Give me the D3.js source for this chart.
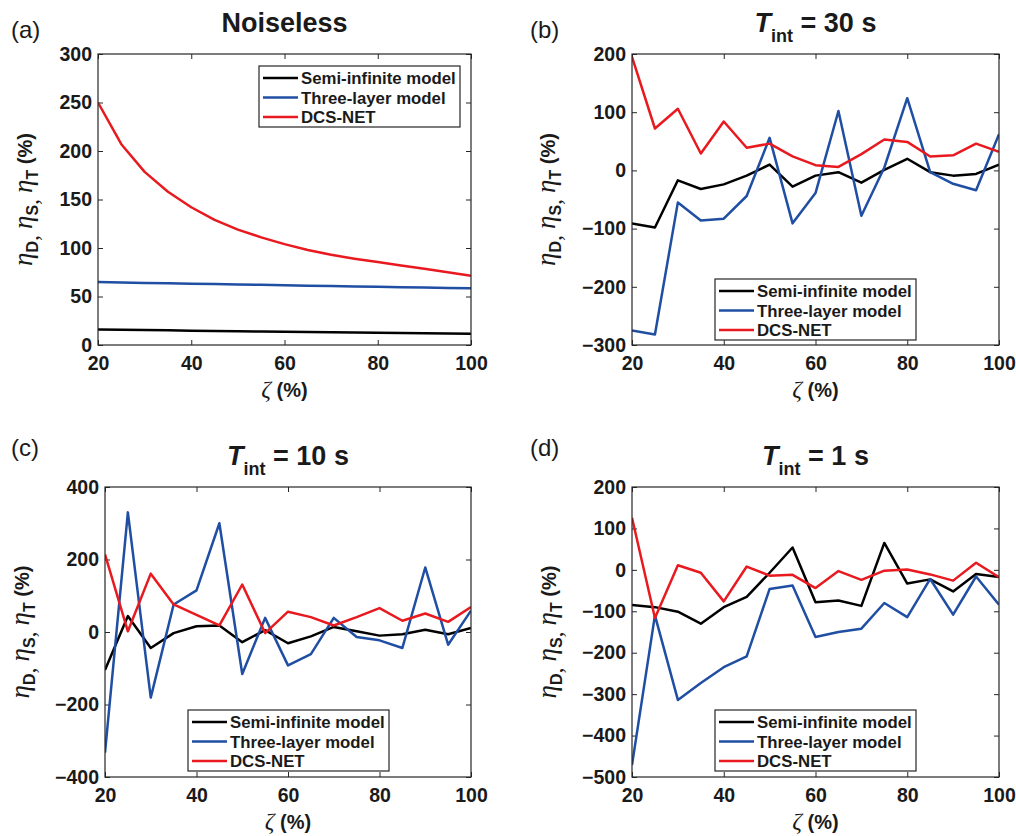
<!DOCTYPE html>
<html>
<head>
<meta charset="utf-8">
<script src="https://cdn.jsdelivr.net/npm/d3@7"></script>
<style>
  body { margin: 0; background: #fff; }
  svg { display: block; font-family: "Liberation Sans", Arial, sans-serif; }
  .tick line { stroke: #262626; }
</style>
</head>
<body>
<svg id="svg1" width="1016" height="836"></svg>
<script>
// zeta (%) values shared by all panels
var zeta = [20, 25, 30, 35, 40, 45, 50, 55, 60, 65, 70, 75, 80, 85, 90, 95, 100];
var seriesNames = ["Semi-infinite model", "Three-layer model", "DCS-NET"];
var seriesColors = ["#000000", "#1f4ea3", "#e8191f"];

// (a) noiseless
var semiA  = [16, 15.7, 15.4, 15.1, 14.8, 14.5, 14.2, 13.9, 13.6, 13.4, 13.1, 12.8, 12.6, 12.3, 12.1, 11.8, 11.6];
var threeA = [65, 64.5, 64, 63.6, 63.2, 62.8, 62.4, 62, 61.6, 61.2, 60.8, 60.4, 60, 59.6, 59.2, 58.8, 58.4];
var netA   = [250, 207, 178.5, 158, 142, 129, 119, 111, 104, 98, 93, 89, 85.5, 82, 78.5, 75, 71.5];

// (b) Tint = 30 s
var semiB  = [-91, -98, -17, -32, -24, -9, 10, -28, -9, -3, -21, 1, 20, -3, -9, -6, 10];
var threeB = [-275, -282, -55, -86, -83, -44, 56, -91, -39, 102, -78, 5, 124, -3, -23, -34, 62];
var netB   = [195, 72, 106, 29, 84, 39, 46, 24, 9, 6, 28, 53, 49, 24, 26, 46, 32];

// (c) Tint = 10 s
var semiC  = [-105, 44, -44, -3, 16, 18, -28, 5, -31, -12, 14, 2, -10, -6, 6, -6, 11];
var threeC = [-333, 330, -181, 76, 115, 300, -116, 39, -92, -61, 39, -14, -23, -44, 178, -35, 59];
var netC   = [214, 2, 161, 76, 47, 18, 131, -3, 56, 41, 18, 41, 66, 31, 51, 28, 69];

// (d) Tint = 1 s
var semiD  = [-85, -90, -101, -130, -90, -65, -7, 54, -78, -74, -87, 65, -33, -23, -52, -10, -17];
var threeD = [-471, -110, -314, -273, -235, -209, -46, -38, -162, -150, -142, -80, -114, -22, -108, -16, -84];
var netD   = [126, -116, 11, -7, -76, 8, -14, -12, -44, -3, -24, -2, 1, -11, -26, 17, -18];

var xTicks = [20, 40, 60, 80, 100];

var panels = [
  {label: "(a)", title: "Noiseless", sub: null, left: 98, top: 54, right: 471, bottom: 345,
   yDomain: [0, 300], yTicks: [0, 50, 100, 150, 200, 250, 300], legendX: 259, legendY: 66,
   labelX: 11, labelY: 38, yLabelOff: 66, series: [semiA, threeA, netA]},
  {label: "(b)", title: "T", sub: " = 30 s", left: 632, top: 54, right: 999, bottom: 345,
   yDomain: [-300, 200], yTicks: [-300, -200, -100, 0, 100, 200], legendX: 715, legendY: 279,
   labelX: 530, labelY: 38, yLabelOff: 77, series: [semiB, threeB, netB]},
  {label: "(c)", title: "T", sub: " = 10 s", left: 105, top: 487, right: 471, bottom: 777,
   yDomain: [-400, 400], yTicks: [-400, -200, 0, 200, 400], legendX: 188, legendY: 710,
   labelX: 11, labelY: 456, yLabelOff: 76, series: [semiC, threeC, netC]},
  {label: "(d)", title: "T", sub: " = 1 s", left: 632, top: 487, right: 999, bottom: 777,
   yDomain: [-500, 200], yTicks: [-500, -400, -300, -200, -100, 0, 100, 200], legendX: 715, legendY: 710,
   labelX: 530, labelY: 456, yLabelOff: 76, series: [semiD, threeD, netD]}
];

var svg = d3.select('svg');

panels.forEach(function(p) {
  var w = p.right - p.left, h = p.bottom - p.top;
  var x = d3.scaleLinear().domain([20, 100]).range([0, w]);
  var y = d3.scaleLinear().domain(p.yDomain).range([h, 0]);

  var g = svg.append('g').attr('transform', 'translate(' + p.left + ',' + p.top + ')');

  // axes, ticks pointing inward on all four sides
  g.append('g').attr('transform', 'translate(0,' + h + ')')
    .call(d3.axisBottom(x).tickValues(xTicks).tickSize(-5).tickPadding(11));
  g.append('g')
    .call(d3.axisTop(x).tickValues(xTicks).tickSize(-5).tickFormat(''));
  g.append('g')
    .call(d3.axisLeft(y).tickValues(p.yTicks).tickSize(-5).tickPadding(6));
  g.append('g').attr('transform', 'translate(' + w + ',0)')
    .call(d3.axisRight(y).tickValues(p.yTicks).tickSize(-5).tickFormat(''));
  g.selectAll('.domain').remove();
  g.selectAll('.tick text')
    .style('font-size', '19.5px').style('font-weight', 'bold').style('fill', '#1a1a1a')
    .style('font-family', '"Liberation Sans", Arial, sans-serif');

  var line = d3.line()
    .x(function(d, i) { return x(zeta[i]); })
    .y(function(d) { return y(d); });

  var clipId = 'clip' + p.label.charAt(1);
  g.append('clipPath').attr('id', clipId).append('rect')
    .attr('x', 0).attr('y', 0).attr('width', w).attr('height', h);

  g.append('g').attr('clip-path', 'url(#' + clipId + ')')
    .selectAll('path.series')
    .data(p.series)
    .enter().append('path')
    .attr('class', 'series')
    .attr('d', line)
    .attr('fill', 'none')
    .attr('stroke', function(d, i) { return seriesColors[i]; })
    .attr('stroke-width', 2.5)
    .attr('stroke-linejoin', 'round');

  g.append('rect')
    .attr('width', w).attr('height', h)
    .attr('fill', 'none').attr('stroke', '#262626').attr('stroke-width', 1.2);

  // legend
  var lg = svg.append('g').attr('transform', 'translate(' + p.legendX + ',' + p.legendY + ')');
  lg.append('rect').attr('width', 201).attr('height', 61)
    .attr('fill', '#fff').attr('stroke', '#262626').attr('stroke-width', 1.2);
  seriesNames.forEach(function(name, i) {
    var yy = 12 + i * 19.5;
    lg.append('line').attr('x1', 4).attr('x2', 39).attr('y1', yy).attr('y2', yy)
      .attr('stroke', seriesColors[i]).attr('stroke-width', 2.5);
    lg.append('text').attr('x', 42).attr('y', yy + 6)
      .attr('font-size', 16.8).attr('font-weight', 'bold').attr('fill', '#1a1a1a')
      .text(name);
  });

  // panel letter
  svg.append('text').attr('x', p.labelX).attr('y', p.labelY)
    .attr('font-size', 24).attr('fill', '#1a1a1a').text(p.label);

  // title
  var cx = p.left + w / 2;
  var tt = svg.append('text').attr('x', cx).attr('y', p.top - 22)
    .attr('text-anchor', 'middle').attr('font-size', 27).attr('font-weight', 'bold').attr('fill', '#1a1a1a');
  if (p.sub === null) {
    tt.text(p.title);
  } else {
    tt.append('tspan').attr('font-style', 'italic').text(p.title);
    tt.append('tspan').attr('font-size', 18).attr('dy', 10).text('int');
    tt.append('tspan').attr('dy', -10).text(p.sub);
  }

  // x label
  var xl = svg.append('text').attr('x', cx).attr('y', p.bottom + 52)
    .attr('text-anchor', 'middle').attr('font-size', 20).attr('font-weight', 'bold').attr('fill', '#1a1a1a');
  xl.append('tspan').attr('font-family', '"Liberation Serif", "Times New Roman", serif')
    .attr('font-style', 'italic').attr('font-weight', 'normal').attr('font-size', 24).text('\u03b6');
  xl.append('tspan').text(' (%)');

  // y label
  var cy = p.top + h / 2;
  var yl = svg.append('text')
    .attr('transform', 'translate(' + (p.left - p.yLabelOff) + ',' + cy + ') rotate(-90)')
    .attr('text-anchor', 'middle').attr('dy', '0.35em')
    .attr('font-size', 20).attr('font-weight', 'bold').attr('fill', '#1a1a1a');
  ['D', 'S', 'T'].forEach(function(s, i) {
    yl.append('tspan').attr('font-family', '"Liberation Serif", "Times New Roman", serif')
      .attr('font-style', 'italic').attr('font-weight', 'normal').attr('font-size', 27)
      .attr('dy', i === 0 ? 0 : -6).text('\u03b7');
    yl.append('tspan').attr('font-size', 16).attr('dy', 6).text(s);
    if (i < 2) yl.append('tspan').attr('font-family', '"Liberation Serif", serif')
      .attr('font-weight', 'normal').attr('font-size', 24).text(', ');
  });
  yl.append('tspan').attr('dy', -6).text(' (%)');
});
</script>
</body>
</html>
